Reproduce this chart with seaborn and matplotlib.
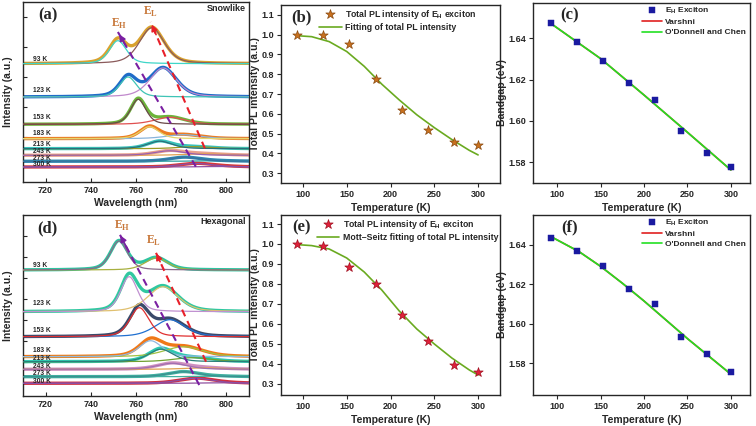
import matplotlib
matplotlib.use("Agg")
import matplotlib.pyplot as plt
import seaborn as sns
import numpy as np

temps = [93, 123, 153, 183, 213, 243, 273, 300]
temp_labels = ["93 K", "123 K", "153 K", "183 K", "213 K", "243 K", "273 K", "300 K"]

# (a) snowlike PL spectra (offset, peak centre nm, height, fwhm nm)
a_base = [118.3, 85.0, 57.7, 43.3, 33.3, 26.7, 20.7, 15.0]
a_label_y = [122.3, 91.0, 64.3, 48.3, 37.3, 30.0, 23.3, 17.3]
a_eh_pos = [752.0, 756.5, 761.0, 766.0, 770.5, 775.0, 781.5, 786.5]
a_eh_amp = [23.0, 20.0, 25.0, 12.0, 7.5, 4.5, 4.0, 3.5]
a_eh_fwhm = [9.0, 9.0, 8.0, 10.0, 13.0, 16.0, 16.0, 18.0]
a_el_pos = [767.0, 772.0, 775.0, 781.0, 786.0, 790.0, 795.0, 798.0]
a_el_amp = [36.0, 29.0, 7.0, 4.0, 2.0, 1.5, 0.5, 0.5]
a_el_fwhm = [13.0, 14.0, 16.0, 18.0, 18.0, 20.0, 20.0, 20.0]

# (d) hexagonal PL spectra
d_base = [126.0, 84.3, 59.3, 39.3, 34.3, 26.7, 19.3, 12.7]
d_label_y = [131.0, 92.7, 65.3, 46.0, 37.7, 30.0, 22.7, 14.3]
d_eh_pos = [752.5, 757.0, 761.5, 766.5, 771.0, 776.0, 781.0, 786.5]
d_eh_amp = [29.0, 35.0, 29.0, 16.0, 12.5, 6.0, 5.0, 5.0]
d_eh_fwhm = [9.0, 9.0, 10.0, 12.0, 13.0, 16.0, 16.0, 18.0]
d_el_pos = [769.0, 772.0, 775.0, 781.0, 785.0, 790.0, 795.0, 798.0]
d_el_amp = [12.0, 25.0, 17.0, 10.0, 4.0, 1.5, 0.5, 0.5]
d_el_fwhm = [12.0, 16.0, 16.0, 20.0, 20.0, 20.0, 20.0, 20.0]

a_data_col = ["#d9a22e", "#1f6cc8", "#6cb43a", "#ec7d22", "#39c2b9", "#e8a08c", "#2b87ad", "#d63a3a"]
a_eh_col = ["#3fd6c8", "#3fc4b6", "#6a4848", "#e6d46a", "#2a6f7a", "#9a60b0", "#3a6fa0", "#8a4fa8"]
a_el_col = ["#8a5a5a", "#c088cc", "#e05050", "#8ab4dc", "#9a9a20", "#e0a050", "#30a0a0", "#9050a0"]
d_data_col = ["#2ec4a0", "#30c8a0", "#3a4a6a", "#f07818", "#30c8b0", "#d090c0", "#40b0a0", "#d03040"]
d_eh_col = ["#8a6a8a", "#c090d0", "#e03030", "#90b8e0", "#2a7f7a", "#a070b0", "#3a9090", "#8a4fa8"]
d_el_col = ["#a8b040", "#e0c070", "#2070d0", "#a0c040", "#70a030", "#e0a050", "#40b0a0", "#9050a0"]

# (b)/(e) integrated PL intensity of E_H exciton
b_int = [1.000, 0.997, 0.952, 0.777, 0.620, 0.520, 0.457, 0.444]
e_int = [1.000, 0.988, 0.886, 0.800, 0.643, 0.515, 0.395, 0.362]
fit_T = [93, 110, 130, 150, 170, 190, 210, 230, 250, 270, 290, 300]
b_fit = [0.995, 0.990, 0.965, 0.915, 0.840, 0.750, 0.670, 0.595, 0.530, 0.470, 0.415, 0.392]
e_fit = [0.997, 0.992, 0.975, 0.930, 0.860, 0.770, 0.665, 0.575, 0.500, 0.430, 0.370, 0.345]

# (c)/(f) bandgap of E_H exciton
c_gap = [1.6472, 1.6383, 1.6292, 1.6185, 1.6102, 1.5952, 1.5845, 1.5778]
f_gap = [1.6435, 1.6368, 1.6290, 1.6178, 1.6098, 1.5935, 1.5845, 1.5758]
c_fit_T = [93, 150, 200, 250, 300]
c_fit = [1.6470, 1.6301, 1.6125, 1.5945, 1.5763]
f_fit_T = [93, 125, 150, 175, 200, 225, 250, 275, 300]
f_fit = [1.6440, 1.6365, 1.6290, 1.6205, 1.6115, 1.6020, 1.5925, 1.5835, 1.5745]

sns.set_style("ticks")
plt.rcParams["font.family"] = ["Liberation Sans", "DejaVu Sans"]
plt.rcParams["axes.linewidth"] = 1.0

SERIF = ["Liberation Serif", "DejaVu Serif"]
LBL = dict(fontsize=7.5, fontweight="bold")


def peak(x, c, h, w, eta=0.4):
    s = w / 2.3548
    g = np.exp(-0.5 * ((x - c) / s) ** 2)
    l = 1.0 / (1.0 + ((x - c) / (w / 2)) ** 2)
    return h * ((1 - eta) * g + eta * l)


def bold_ticks(ax):
    for t in ax.get_xticklabels() + ax.get_yticklabels():
        t.set_fontweight("bold")


def spectra(ax, base, laby, ehp, eha, ehw, elp, ela, elw, dcol, ecol, lcol, title, tag):
    wl = np.linspace(710, 810, 500)
    for i in range(len(temps)):
        eh = peak(wl, ehp[i], eha[i], ehw[i])
        el = peak(wl, elp[i], ela[i], elw[i])
        sns.lineplot(x=wl, y=base[i] + eh + el, ax=ax, color=dcol[i], lw=2.4,
                     estimator=None, sort=False, zorder=2)
        sns.lineplot(x=wl, y=base[i] + el, ax=ax, color=lcol[i], lw=0.9,
                     estimator=None, sort=False, zorder=3)
        sns.lineplot(x=wl, y=base[i] + eh, ax=ax, color=ecol[i], lw=0.9,
                     estimator=None, sort=False, zorder=3)
        ax.text(714.5, laby[i], temp_labels[i], fontsize=4.8, fontweight="bold",
                va="center", ha="left", zorder=5)
    ax.set_xlim(710, 810)
    ax.set_xticks([720, 740, 760, 780, 800])
    ax.tick_params(direction="in", length=3, labelsize=6.5, pad=3)
    ax.set_xlabel("Wavelength (nm)", labelpad=2, **LBL)
    ax.set_ylabel("Intensity (a.u.)", labelpad=4, **LBL)
    ax.text(0.11, 0.925, tag, transform=ax.transAxes, fontsize=12, fontweight="bold",
            family=SERIF, ha="center", va="center")
    ax.text(0.985, 0.962, title, transform=ax.transAxes, fontsize=6.5, fontweight="bold",
            ha="right", va="center")


def dashed_arrow(ax, p0, p1, col):
    ax.plot([p0[0], p1[0]], [p0[1], p1[1]], color=col, lw=1.5, ls=(0, (3.5, 2.5)), zorder=6)
    q = (p1[0] - 0.12 * (p1[0] - p0[0]), p1[1] - 0.12 * (p1[1] - p0[1]))
    ax.annotate("", xy=p1, xytext=q, zorder=7,
                arrowprops=dict(arrowstyle="-|>", color=col, lw=1.2, mutation_scale=9))


def e_label(ax, x, y, sub):
    ax.text(x, y, r"E$_\mathregular{%s}$" % sub, color="#c8783a", fontsize=8.5,
            fontweight="bold", family=SERIF, ha="center", va="center", zorder=8)


fig = plt.figure(figsize=(7.56, 4.26), dpi=100)
axa = fig.add_axes([0.0304, 0.5728, 0.2989, 0.4225])
axb = fig.add_axes([0.3717, 0.5704, 0.2897, 0.4178])
axc = fig.add_axes([0.7050, 0.5704, 0.2870, 0.4225])
axd = fig.add_axes([0.0304, 0.0704, 0.2989, 0.4249])
axe = fig.add_axes([0.3717, 0.0728, 0.2897, 0.4225])
axf = fig.add_axes([0.7050, 0.0728, 0.2870, 0.4225])

# (a)
spectra(axa, a_base, a_label_y, a_eh_pos, a_eh_amp, a_eh_fwhm, a_el_pos, a_el_amp, a_el_fwhm,
        a_data_col, a_eh_col, a_el_col, "Snowlike", "(a)")
axa.set_ylim(0, 180)
axa.set_yticks([45, 75, 105, 135, 165])
axa.set_yticklabels([])
dashed_arrow(axa, (786.5, 15.3), (752.0, 150.0), "#7a1fa2")
dashed_arrow(axa, (790.5, 33.5), (766.5, 160.0), "#e8202a")
e_label(axa, 752.5, 158.5, "H")
e_label(axa, 766.5, 170.0, "L")

# (d)
spectra(axd, d_base, d_label_y, d_eh_pos, d_eh_amp, d_eh_fwhm, d_el_pos, d_el_amp, d_el_fwhm,
        d_data_col, d_eh_col, d_el_col, "Hexagonal", "(d)")
axd.set_ylim(0, 181)
axd.set_yticks([34, 55, 76, 97, 118, 139, 160])
axd.set_yticklabels([])
dashed_arrow(axd, (788.0, 11.0), (752.5, 163.0), "#7a1fa2")
dashed_arrow(axd, (791.0, 34.3), (768.5, 145.0), "#e8202a")
e_label(axd, 754.0, 170.5, "H")
e_label(axd, 768.0, 155.0, "L")
bold_ticks(axa)
bold_ticks(axd)


def pl_panel(ax, vals, fit, star_col, edge_col, fit_label, tag, ylim, anchor_x):
    sns.lineplot(x=fit_T, y=fit, ax=ax, color="#6aaa20", lw=1.2, label=fit_label,
                 estimator=None, sort=False, zorder=2)
    sns.scatterplot(x=temps, y=vals, ax=ax, marker="*", s=50, color=star_col,
                    edgecolor=edge_col, linewidth=0.5, zorder=3,
                    label=r"Total PL intensity of E$_\mathregular{H}$ exciton")
    ax.set_xlim(75, 325)
    ax.set_ylim(*ylim)
    ax.set_xticks([100, 150, 200, 250, 300])
    ax.set_yticks([0.3, 0.4, 0.5, 0.6, 0.7, 0.8, 0.9, 1.0, 1.1])
    ax.tick_params(direction="out", length=3, labelsize=6.5, pad=2)
    ax.set_xlabel("Temperature (K)", labelpad=3, **LBL)
    ax.set_ylabel("Total PL intensity (a.u.)", labelpad=1, **LBL)
    h, l = ax.get_legend_handles_labels()
    ax.legend(h[::-1], l[::-1], loc="upper right", bbox_to_anchor=(anchor_x, 1.02),
              frameon=False, handlelength=2.6, handletextpad=0.4,
              labelspacing=0.3, borderaxespad=0.3,
              prop=dict(size=6.3, weight="bold"))
    ax.text(0.095, 0.93, tag, transform=ax.transAxes, fontsize=12, fontweight="bold",
            family=SERIF, ha="center", va="center")
    bold_ticks(ax)


pl_panel(axb, b_int, b_fit, "#c8701e", "#8a4a10", "Fitting of total PL intensity", "(b)",
         (0.25, 1.15), 0.92)
pl_panel(axe, e_int, e_fit, "#e0203a", "#a01020", "Mott\u2013Seitz fitting of total PL intensity",
         "(e)", (0.245, 1.145), 1.02)


def gap_panel(ax, gap, ft, fv, tag, ylim):
    sns.scatterplot(x=temps, y=gap, ax=ax, marker="s", s=16, color="#1a1aa0",
                    edgecolor="#1a1aa0", zorder=4, label=r"E$_\mathregular{H}$ Exciton")
    sns.lineplot(x=ft, y=fv, ax=ax, color="#e02020", lw=1.2, label="Varshni",
                 estimator=None, sort=False, zorder=2)
    sns.lineplot(x=ft, y=fv, ax=ax, color="#22e022", lw=1.2, label="O'Donnell and Chen",
                 estimator=None, sort=False, zorder=3)
    ax.set_xlim(72, 322)
    ax.set_ylim(*ylim)
    ax.set_xticks([100, 150, 200, 250, 300])
    ax.set_yticks([1.58, 1.60, 1.62, 1.64])
    ax.set_yticklabels(["1.58", "1.60", "1.62", "1.64"])
    ax.tick_params(direction="out", length=3, labelsize=6.5, pad=2)
    ax.set_xlabel("Temperature (K)", labelpad=3, **LBL)
    ax.set_ylabel("Bandgap (eV)", labelpad=1, **LBL)
    ax.legend(loc="upper right", bbox_to_anchor=(1.01, 1.02), frameon=False,
              handlelength=2.4, handletextpad=0.4, labelspacing=0.3, borderaxespad=0.3,
              prop=dict(size=6.0, weight="bold"))
    ax.text(0.17, 0.93, tag, transform=ax.transAxes, fontsize=12, fontweight="bold",
            family=SERIF, ha="center", va="center")
    bold_ticks(ax)


gap_panel(axc, c_gap, c_fit_T, c_fit, "(c)", (1.570, 1.657))
gap_panel(axf, f_gap, f_fit_T, f_fit, "(f)", (1.564, 1.655))

fig.savefig("out.png", dpi=100)
plt.close(fig)
